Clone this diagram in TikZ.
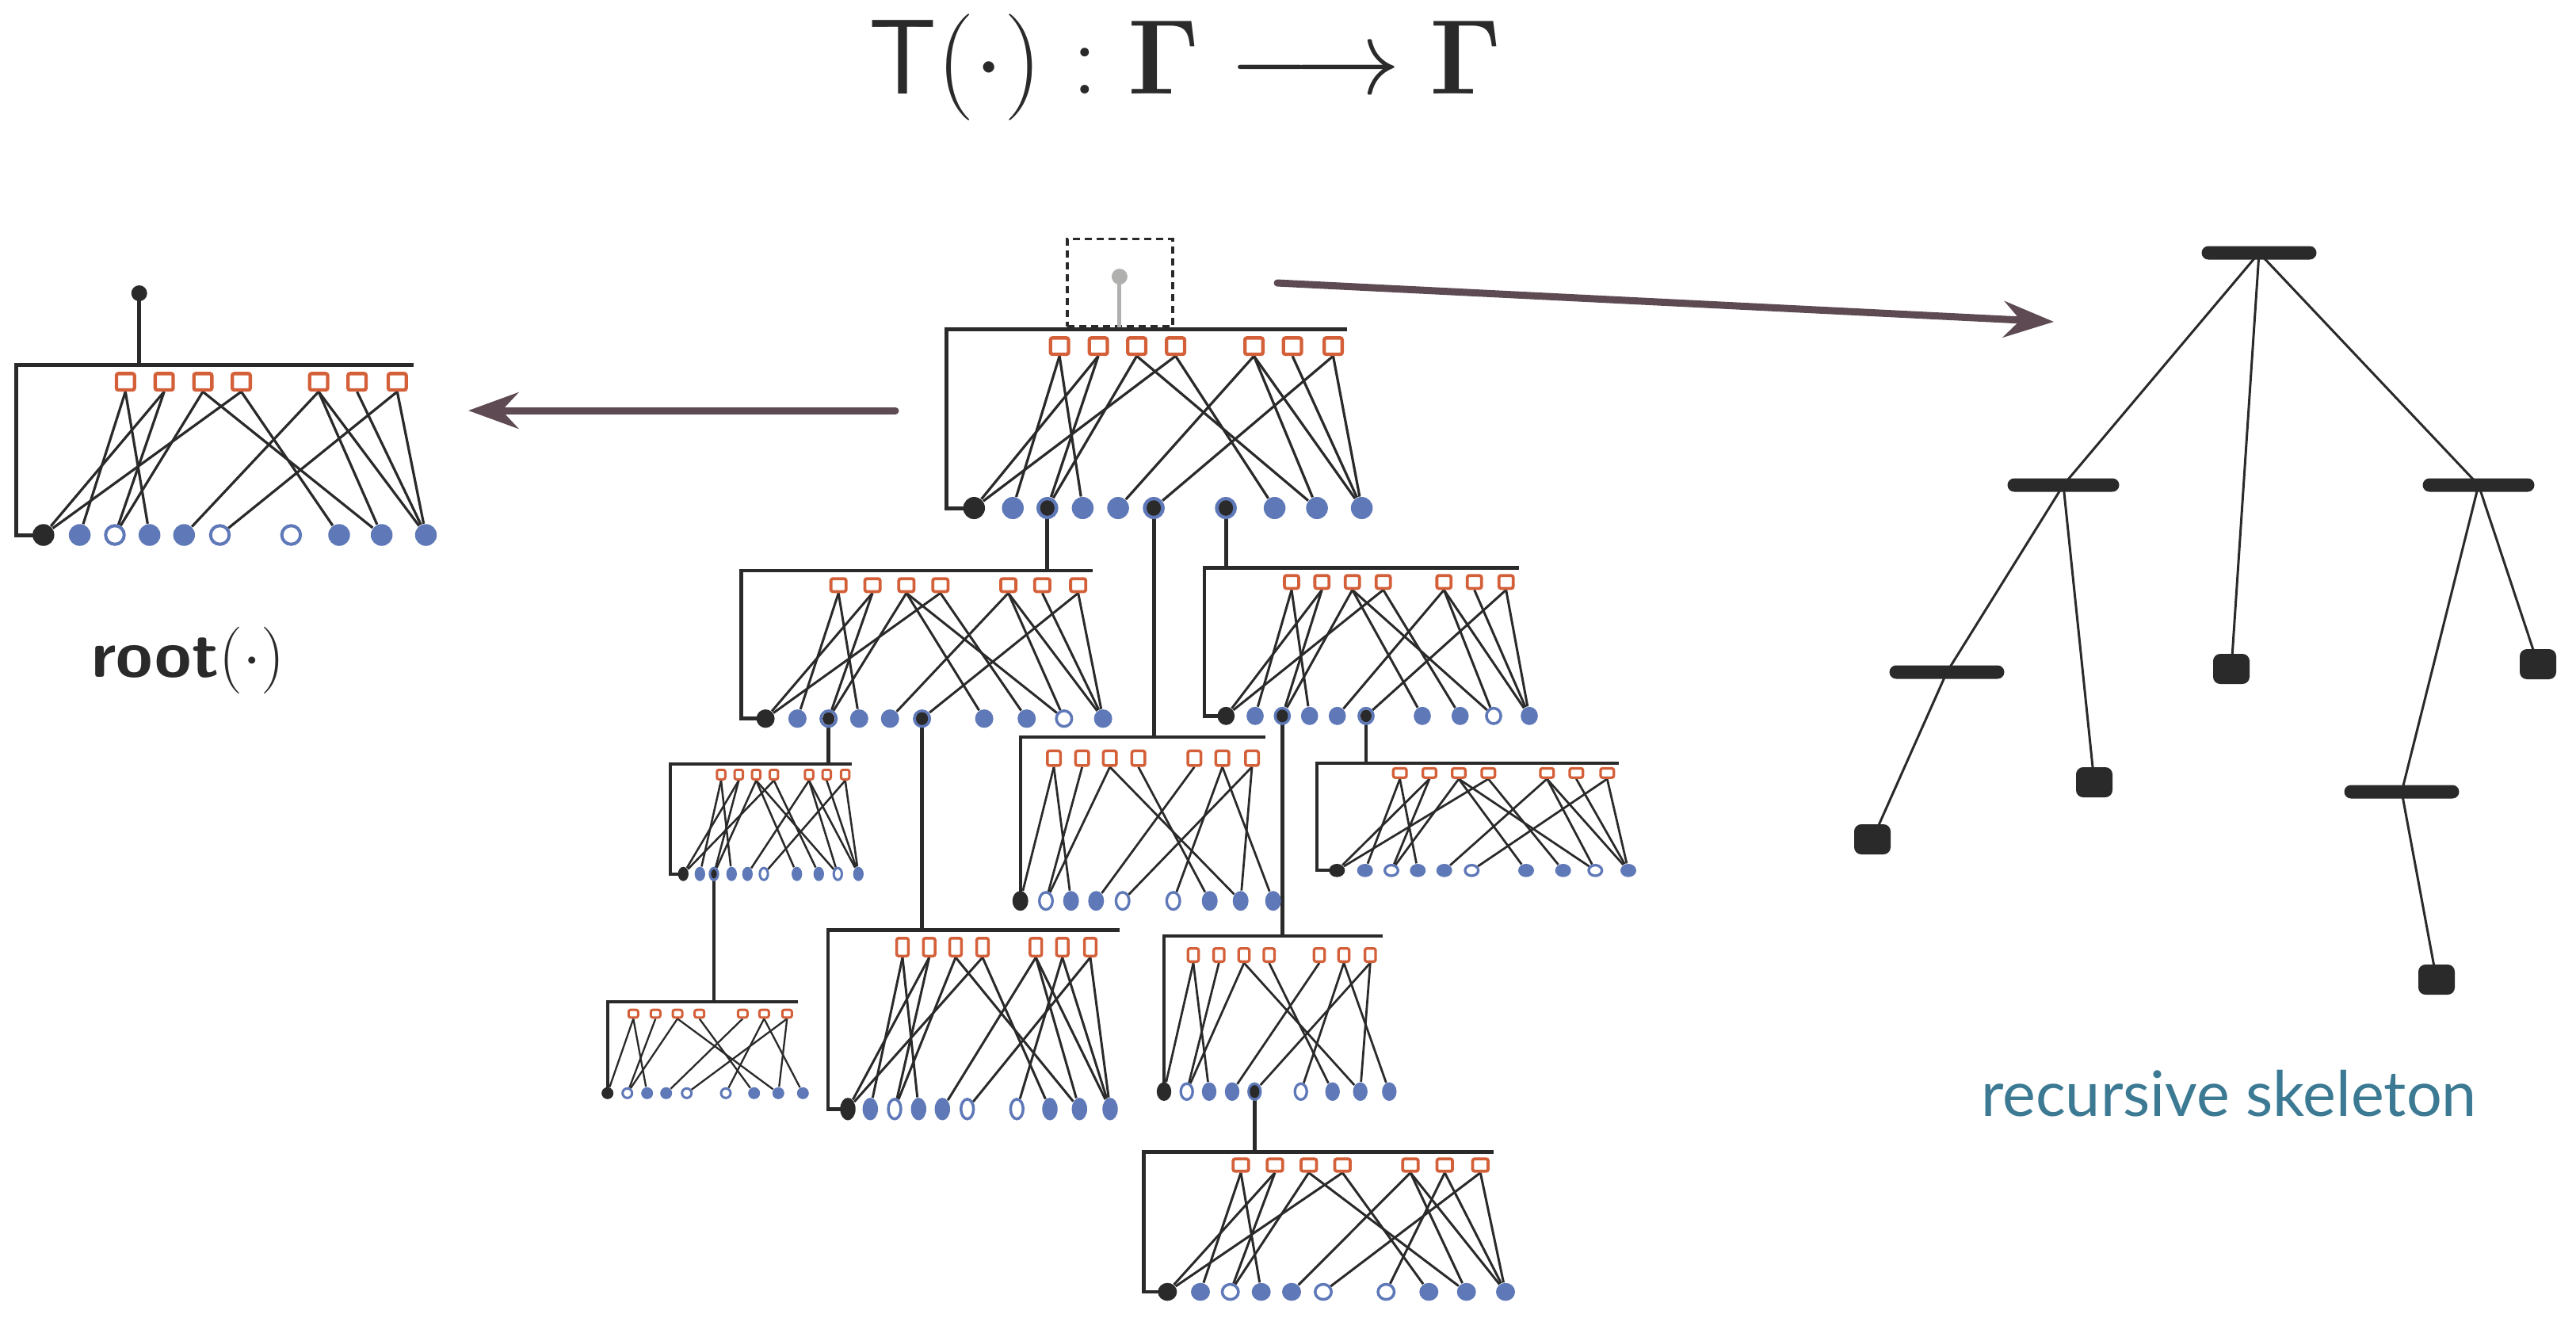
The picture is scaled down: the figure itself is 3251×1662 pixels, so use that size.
\RequirePackage{fix-cm}
\documentclass[tikz,border=0pt]{standalone}
\usepackage[no-math]{fontspec}
\newfontfamily\skfont{Lato}
\usetikzlibrary{shapes.geometric,arrows.meta,backgrounds}
\newdimen\pxu \pxu=0.01cm
\definecolor{dk}{HTML}{2A2A2A}
\definecolor{orf}{HTML}{D4603A}
\definecolor{blv}{HTML}{5E78B8}
\definecolor{gry}{HTML}{B0B0AE}
\definecolor{arw}{HTML}{5D4A52}
\definecolor{tea}{HTML}{3C7A94}
\newcommand\setsz[7]{%
  \pgfmathsetmacro\qfwi{#1-#3}\pgfmathsetmacro\qfhi{#2-#3}\def\qfs{#3}%
  \pgfmathsetmacro\qvw{#4}\pgfmathsetmacro\qvh{#5}%
  \pgfmathsetmacro\qvwo{#4-#6}\pgfmathsetmacro\qvho{#5-#6}\def\qvs{#6}%
  \pgfmathsetmacro\qdrx{0.33*#4}\pgfmathsetmacro\qdry{0.35*#5}%
  \pgfmathsetmacro\qew{1.15*#7}\pgfmathsetmacro\qfr{1.8*#7}}
\def\edgesA{1/2,1/4,2/1,2/3,3/3,3/9,4/1,4/8,5/5,5/9,5/10,6/10,7/6,7/10}
\def\edgesAs{1/2,1/4,2/1,2/3,3/3,3/7,3/9,4/1,4/8,5/5,5/9,5/10,6/10,7/6,7/10}
\def\edgesAx{1/2,1/4,2/1,2/3,3/3,3/9,4/1,4/8,5/5,5/9,5/10,6/7,6/10,7/6,7/10}
\def\edgesB{1/1,1/3,2/2,3/2,3/8,4/7,5/4,6/6,6/9,7/5,7/8}
% #1 prefix, #2 bar left, #3 bar right, #4 bar y, #5 factor y, #6 variable y,
% #7 factor xs, #8 variable x/style, #9 edge list macro
\newcommand\fgraph[9]{%
  \coordinate (#1bar) at (#2,#4);
  \foreach \xx [count=\ii] in {#7} \node[fac] (#1f\ii) at (\xx,#5) {};
  \foreach \xx/\ty [count=\ii] in {#8} \node[\ty] (#1v\ii) at (\xx,#6) {};
  \begin{pgfonlayer}{background}
    \draw[fgframe] (#3,#4) -- (#2,#4) -- (#2,#6) -- (#1v1.center);
    \foreach \aa/\bb in #9 \draw[fgedge] (#1f\aa.south) -- (#1v\bb);
  \end{pgfonlayer}}
\tikzset{
  fac/.style={rectangle, draw=orf, fill=white, line width=\qfs\pxu, rounded corners=2.5\pxu,
    minimum width=\qfwi\pxu, minimum height=\qfhi\pxu, inner sep=0pt},
  vbase/.style={ellipse, inner sep=0pt, minimum width=\qvw\pxu, minimum height=\qvh\pxu},
  vb/.style={vbase, fill=dk},
  vf/.style={vbase, fill=blv},
  vo/.style={ellipse, inner sep=0pt, minimum width=\qvwo\pxu, minimum height=\qvho\pxu,
    draw=blv, fill=white, line width=\qvs\pxu},
  vfd/.style={vf, path picture={\fill[dk] (path picture bounding box.center)
    ellipse [x radius=\qdrx\pxu, y radius=\qdry\pxu];}},
  vod/.style={vo, path picture={\fill[dk] (path picture bounding box.center)
    ellipse [x radius=\qdrx\pxu, y radius=\qdry\pxu];}},
  fgedge/.style={draw=dk, line width=\qew\pxu},
  fgframe/.style={draw=dk, line width=\qfr\pxu},
  conn/.style={draw=dk, line width=4.8\pxu},
  bigarrow/.style={draw=arw, line width=9\pxu, line cap=round,
    -{Stealth[length=18pt, width=13pt, inset=6pt]}},
  skbar/.style={rectangle, fill=dk, rounded corners=8.5\pxu, minimum width=145\pxu,
    minimum height=17\pxu, inner sep=0pt},
  skleaf/.style={rectangle, fill=dk, rounded corners=9\pxu, minimum width=46\pxu,
    minimum height=38\pxu, inner sep=0pt},
  skline/.style={draw=dk, line width=3\pxu},
}
\begin{document}
\begin{tikzpicture}[x=0.01cm, y=-0.01cm]
\useasboundingbox (0,0) rectangle (3251,1662);

% title
\node[text=dk, anchor=base, inner sep=0pt, font=\fontsize{38.2}{45}\selectfont] (title) at (1496,118)
  {$\mathsf{T}(\cdot):\mathbf{\Gamma}\longrightarrow\mathbf{\Gamma}$};

% left factor graph (root)
\setsz{27}{25}{4.3}{27.5}{27.5}{4}{2.8}
\fgraph{GL}{20.3}{521.6}{460.7}{481.7}{675}
  {158.3,207.2,256,304.5,402.1,450.6,501.3}
  {54.8/vb,100.6/vf,145/vo,188.7/vf,232.3/vf,277.5/vo,367.4/vo,428/vf,481.7/vf,537.5/vf}{\edgesA}
\node[circle, fill=dk, minimum size=20\pxu, inner sep=0pt] (GLr) at (175.7,370) {};
\begin{pgfonlayer}{background}
\draw[dk, line width=5.5\pxu] (GLr.center) -- (GLr.center |- GLbar);
\end{pgfonlayer}
\node[text=dk, anchor=base, inner sep=0pt, font=\fontsize{24}{28}\selectfont] (rootlab) at (237.5,854)
  {\textsf{\bfseries root}$(\cdot)$};

% top central graph
\setsz{27}{25}{4.3}{27.5}{28}{4}{2.8}
\fgraph{GO}{1194.3}{1699.6}{415.7}{436.7}{641}
  {1337.1,1386.1,1434.6,1483.6,1582.5,1631.1,1682.5}
  {1229.3/vb,1278.2/vf,1321.8/vfd,1366.4/vf,1411.1/vf,1456.1/vfd,1547.1/vfd,1608.6/vf,1662.1/vf,1718.6/vf}{\edgesA}
\node[draw=dk, dash pattern=on 9\pxu off 6\pxu, line width=3.5\pxu, minimum width=133\pxu,
  minimum height=110\pxu, inner sep=0pt] (GObox) at (1413.5,356.7) {};
\node[circle, fill=gry, minimum size=20\pxu, inner sep=0pt] (GOr) at (1412.9,349) {};
\draw[gry, line width=5\pxu] (GOr.center) -- (GOr.center |- GObox.south);

% level 1 left
\setsz{23}{20}{3.8}{23}{23.3}{3.5}{2.6}
\fgraph{GLa}{935.7}{1378.6}{720}{738.3}{906.7}
  {1058.2,1101.1,1143.9,1186.8,1272.5,1315.4,1360.7}
  {966.1/vb,1006.4/vf,1045.7/vod,1084.3/vf,1123.2/vf,1163.6/vfd,1242.1/vf,1295.7/vf,1342.9/vo,1392.1/vf}{\edgesAs}

% level 1 right
\setsz{21.7}{20}{3.8}{21.7}{23}{3.5}{2.6}
\fgraph{GRa}{1520}{1916.7}{716.7}{734.3}{903.3}
  {1630,1668.3,1706.7,1745.7,1822.3,1860.7,1900.7}
  {1547.3/vb,1584/vf,1618.3/vfd,1652.7/vf,1687.7/vf,1724/vod,1795/vf,1842.7/vf,1885/vo,1930/vf}{\edgesAs}

% level 1 middle
\setsz{20}{22}{3.5}{20}{25}{3.3}{2.4}
\fgraph{GMa}{1287.7}{1596.7}{930}{956.7}{1136.7}
  {1330,1365.7,1400.7,1436.7,1507.3,1542.7,1580}
  {1287.7/vb,1320/vo,1351.7/vf,1383.3/vf,1416.7/vo,1480.7/vo,1526.7/vf,1565.7/vf,1606.7/vf}{\edgesB}

% level 2 right
\setsz{20}{15}{3.3}{20}{16.7}{3.3}{2.4}
\fgraph{GRb}{1661.7}{2043.3}{962.7}{975.3}{1098.3}
  {1766.7,1804,1841,1878.3,1952.3,1989.3,2028.3}
  {1687.3/vb,1722.7/vf,1756/vo,1789.3/vf,1822.7/vf,1857.3/vo,1926/vf,1972.7/vf,2013.3/vo,2055/vf}{\edgesAs}

% level 2 left
\setsz{13.5}{15}{3}{13.3}{18}{3}{2.2}
\fgraph{GLb}{846}{1075}{964}{977.3}{1102.7}
  {910,932.3,954.3,976.7,1021,1043.3,1066.7}
  {862.3/vb,883.3/vf,901/vod,923.3/vf,943.3/vf,964/vo,1005.7/vf,1033.3/vf,1057.3/vo,1083.3/vf}{\edgesAs}

% level 3 left
\setsz{15}{12.7}{3}{15}{15}{3}{2}
\fgraph{GLc}{766.7}{1006.7}{1264}{1279}{1379.3}
  {799.3,827.3,855,882.7,937.3,964.3,993.3}
  {766.7/vb,791.7/vo,816.7/vf,840.7/vf,866.7/vo,916/vo,951.7/vf,982.3/vf,1013.3/vf}{\edgesB}

% level 2 middle
\setsz{18.3}{26}{3.5}{19.4}{28.4}{3.5}{2.6}
\fgraph{GMb}{1045}{1412.7}{1173.3}{1195}{1399.3}
  {1139,1172.7,1206,1240,1307.3,1340.7,1376}
  {1070/vb,1098.3/vf,1129/vo,1159.3/vf,1189.3/vf,1220.7/vo,1283.3/vo,1325/vf,1362.3/vf,1401/vf}{\edgesAx}

% level 2 right-middle
\setsz{16.7}{20}{3.3}{18.4}{23.4}{3.3}{2.4}
\fgraph{GRc}{1469}{1745}{1180.7}{1205}{1377.3}
  {1506,1538.3,1570,1601.7,1665,1696,1729.3}
  {1469/vb,1497.7/vo,1526/vf,1555/vf,1583.3/vfd,1641.7/vo,1681.7/vf,1716.7/vf,1753.3/vf}{\edgesB}

% bottom
\setsz{23.3}{19.3}{3.8}{24}{22.6}{3.5}{2.6}
\fgraph{GBa}{1443.3}{1885}{1453.3}{1470}{1630}
  {1566,1609,1651.7,1694.3,1780,1823.3,1868.3}
  {1473.3/vb,1515/vf,1552.7/vo,1591.7/vf,1630/vf,1670/vo,1749.3/vo,1803.3/vf,1850.7/vf,1900/vf}{\edgesAx}

% recursion connectors
\begin{pgfonlayer}{background}
\draw[conn] (GOv3.center) -- (GOv3.center |- GLabar);
\draw[conn] (GOv6.center) -- (GOv6.center |- GMabar);
\draw[conn] (GOv7.center) -- (GOv7.center |- GRabar);
\draw[conn] (GLav3.center) -- (GLav3.center |- GLbbar);
\draw[conn] (GLav6.center) -- (GLav6.center |- GMbbar);
\draw[conn] (GRav3.center) -- (GRav3.center |- GRcbar);
\draw[conn] (GRav6.center) -- (GRav6.center |- GRbbar);
\draw[conn, line width=3.8\pxu] (GLbv3.center) -- (GLbv3.center |- GLcbar);
\draw[conn] (GRcv5.center) -- (GRcv5.center |- GBabar);
\end{pgfonlayer}

% arrows
\coordinate (la0) at (1130,518);
\coordinate (la1) at (591,518);
\draw[bigarrow] (la0) -- (la1);
\coordinate (ra0) at (1612,357);
\coordinate (ra1) at (2592,406);
\draw[bigarrow] (ra0) -- (ra1);

% recursive skeleton
\node[skbar] (sk0) at (2851,319) {};
\node[skbar, minimum width=141\pxu] (sk1) at (2604,612) {};
\node[skbar, minimum width=141\pxu] (sk2) at (3128,612) {};
\node[skleaf] (sk3) at (2816,844) {};
\node[skbar] (sk4) at (2457,848) {};
\node[skleaf] (sk5) at (2643,987) {};
\node[skleaf] (sk6) at (2363,1059) {};
\node[skleaf] (sk7) at (3203,838) {};
\node[skbar] (sk8) at (3031,999) {};
\node[skleaf] (sk9) at (3075,1236) {};
\begin{pgfonlayer}{background}
\draw[skline] (sk0.center) -- (sk1.center);
\draw[skline] (sk0.center) -- (sk3.center);
\draw[skline] (sk0.center) -- (sk2.center);
\draw[skline] (sk1.center) -- (sk4.center);
\draw[skline] (sk1.center) -- (sk5.center);
\draw[skline] (sk4.center) -- (sk6.center);
\draw[skline] (sk2.center) -- (sk7.center);
\draw[skline] (sk2.center) -- (sk8.center);
\draw[skline] (sk8.center) -- (sk9.center);
\end{pgfonlayer}
\node[text=tea, anchor=base, font=\skfont\fontsize{22.5}{27}\selectfont] (sklab) at (2813,1408) {recursive skeleton};
\end{tikzpicture}
\end{document}
